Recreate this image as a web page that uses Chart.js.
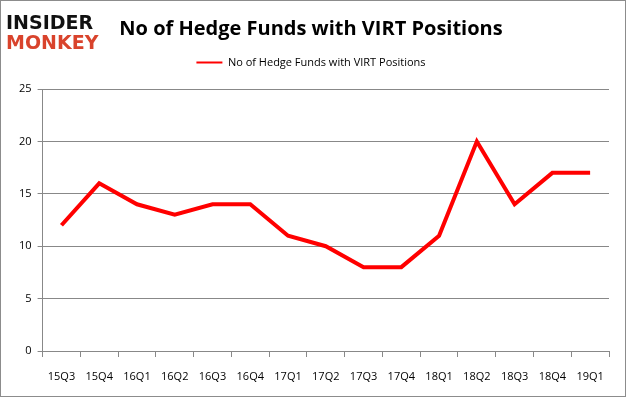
<!DOCTYPE html>
<html>
<head>
<meta charset="utf-8">
<script src="https://cdn.jsdelivr.net/npm/chart.js@4/dist/chart.umd.min.js"></script>
<style>
  body { margin: 0; background: #fff; }
  #wrap { position: relative; width: 624px; height: 395px; border: 1px solid #8c8c8c; }
</style>
</head>
<body>
<div id="wrap"><canvas id="chart" width="624" height="395"></canvas></div>
<script>
// Datos del gráfico
const quarters = ['15Q3', '15Q4', '16Q1', '16Q2', '16Q3', '16Q4', '17Q1', '17Q2', '17Q3', '17Q4', '18Q1', '18Q2', '18Q3', '18Q4', '19Q1'];
const fundCounts = [12, 16, 14, 13, 14, 14, 11, 10, 8, 8, 11, 20, 14, 17, 17];
const yTicks = [0, 5, 10, 15, 20, 25];

// Logo de Insider Monkey dibujado como texto
const logoPlugin = {
    id: 'logo',
    afterDraw(chart) {
        const ctx = chart.ctx;
        ctx.save();
        ctx.textBaseline = 'alphabetic';
        ctx.textAlign = 'left';
        ctx.font = 'bold 19px "DejaVu Sans"';
        ctx.fillStyle = '#111';
        ctx.fillText('INSIDER', 5, 28);
        ctx.fillStyle = '#d9432c';
        ctx.fillText('MONKEY', 5, 48);
        ctx.restore();
    }
};

// Espacio extra debajo de la leyenda
const legendGap = {
    id: 'legendGap',
    afterInit(chart) {
        const fit = chart.legend.fit;
        chart.legend.fit = function() {
            fit.call(this);
            this.height += 11;
        };
    }
};

const ctx = document.getElementById('chart').getContext('2d');
new Chart(ctx, {
    type: 'line',
    data: {
        labels: quarters,
        datasets: [{
            label: 'No of Hedge Funds with VIRT Positions',
            data: fundCounts,
            borderColor: '#ff0000',
            backgroundColor: '#ff0000',
            borderWidth: 4,
            pointRadius: 0,
            tension: 0
        }]
    },
    options: {
        responsive: false,
        animation: false,
        layout: { padding: { left: 12, right: 16, top: 6, bottom: 0 } },
        plugins: {
            title: {
                display: true,
                text: 'No of Hedge Funds with VIRT Positions',
                font: { family: '"Open Sans"', size: 20, weight: 'bold' },
                color: '#000',
                padding: { top: 10, bottom: 0 }
            },
            legend: {
                labels: {
                    boxWidth: 26,
                    boxHeight: 2,
                    padding: 16,
                    font: { family: '"Open Sans"', size: 11 },
                    color: '#000',
                    generateLabels(chart) {
                        return Chart.defaults.plugins.legend.labels.generateLabels(chart).map(l => Object.assign(l, { lineWidth: 0 }));
                    }
                }
            },
            tooltip: { enabled: false }
        },
        scales: {
            x: {
                offset: true,
                grid: { offset: true, drawOnChartArea: false, color: '#888', tickLength: 6 },
                border: { color: '#888' },
                ticks: { font: { family: '"Open Sans"', size: 11, lineHeight: 1 }, color: '#000', maxRotation: 0, autoSkip: false, padding: 14 }
            },
            y: {
                min: 0,
                max: 25,
                afterBuildTicks(axis) { axis.ticks = yTicks.map(v => ({ value: v })); },
                grid: { color: '#888', tickLength: 5 },
                border: { color: '#888' },
                ticks: { font: { family: '"Open Sans"', size: 11 }, color: '#000', padding: 6 }
            }
        }
    },
    plugins: [logoPlugin, legendGap]
});
</script>
</body>
</html>
